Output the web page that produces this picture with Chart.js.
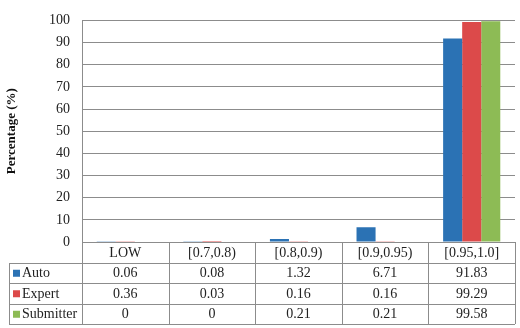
<!DOCTYPE html>
<html>
<head>
<meta charset="utf-8">
<script src="https://cdn.jsdelivr.net/npm/chart.js@4.4.0/dist/chart.umd.min.js"></script>
<style>
  html, body { margin: 0; padding: 0; background: #fff; }
  #wrap { width: 520px; height: 328px; }
</style>
</head>
<body>
<div id="wrap"><canvas id="myChart" width="520" height="328"></canvas></div>
<script>
const categories = ["LOW", "[0.7,0.8)", "[0.8,0.9)", "[0.9,0.95)", "[0.95,1.0]"];
const autoValues = [0.06, 0.08, 1.32, 6.71, 91.83];
const expertValues = [0.36, 0.03, 0.16, 0.16, 99.29];
const submitterValues = [0, 0, 0.21, 0.21, 99.58];
const seriesNames = ["Auto", "Expert", "Submitter"];
const seriesColors = ["#2b72b4", "#dc4a4a", "#8dbb55"];

const serif = "'Liberation Serif', 'Times New Roman', serif";
const lineColor = "#8c8c8c";

// draws the data table under the plot, columns taken from the x scale
const dataTable = {
  id: "dataTable",
  afterDraw(chart) {
    const c = chart.ctx;
    const x = chart.scales.x;
    const area = chart.chartArea;
    const step = x.getPixelForValue(1) - x.getPixelForValue(0);
    const colLeft = area.left;
    const colRight = area.left + step * categories.length;
    const tableLeft = 9;
    const rowH = 20.5;
    const top = area.bottom;
    const rows = [autoValues, expertValues, submitterValues];

    c.save();
    c.strokeStyle = lineColor;
    c.lineWidth = 1;
    c.font = "14px " + serif;
    c.fillStyle = "#222";
    c.textBaseline = "middle";
    c.textAlign = "center";

    // header row
    c.beginPath();
    c.moveTo(colLeft, top + 0.5);
    c.lineTo(colRight, top + 0.5);
    for (let i = 0; i <= categories.length; i++) {
      const xx = Math.round(colLeft + step * i) + 0.5;
      c.moveTo(xx, top);
      c.lineTo(xx, top + rowH * 4);
    }
    c.stroke();
    categories.forEach((cat, i) => {
      c.fillText(cat, x.getPixelForValue(i), top + rowH / 2 + 1);
    });

    // series rows
    c.beginPath();
    for (let r = 1; r <= 4; r++) {
      const yy = Math.round(top + rowH * r) + 0.5;
      c.moveTo(tableLeft, yy);
      c.lineTo(colRight, yy);
    }
    c.moveTo(tableLeft + 0.5, Math.round(top + rowH) );
    c.lineTo(tableLeft + 0.5, Math.round(top + rowH * 4) + 1);
    c.stroke();

    rows.forEach((vals, r) => {
      const cy = top + rowH * (r + 1) + rowH / 2 + 1;
      c.fillStyle = seriesColors[r];
      c.fillRect(tableLeft + 4, cy - 4, 7, 7);
      c.fillStyle = "#222";
      c.textAlign = "left";
      c.fillText(seriesNames[r], tableLeft + 13, cy);
      c.textAlign = "center";
      vals.forEach((v, i) => {
        c.fillText(String(v), x.getPixelForValue(i), cy);
      });
    });
    c.restore();
  },
};

const ctx = document.getElementById("myChart").getContext("2d");

const myChart = new Chart(ctx, {
  type: "bar",
  data: {
    labels: categories,
    datasets: [
      { label: seriesNames[0], data: autoValues, backgroundColor: seriesColors[0] },
      { label: seriesNames[1], data: expertValues, backgroundColor: seriesColors[1] },
      { label: seriesNames[2], data: submitterValues, backgroundColor: seriesColors[2] },
    ],
  },
  options: {
    responsive: false,
    animation: false,
    layout: { padding: { left: 0, right: 5, top: 18, bottom: 86 } },
    datasets: {
      bar: { categoryPercentage: 0.66, barPercentage: 1.0 },
    },
    plugins: {
      legend: { display: false },
      tooltip: { enabled: false },
    },
    scales: {
      x: {
        display: false,
      },
      y: {
        min: 0,
        max: 100,
        ticks: {
          stepSize: 10,
          color: "#222",
          padding: 12,
          font: { family: serif, size: 14 },
        },
        grid: { color: lineColor, drawTicks: false },
        border: { color: lineColor },
        title: {
          display: true,
          text: "Percentage (%)",
          color: "#111",
          padding: { top: 4, bottom: 0 },
          font: { family: serif, size: 13, weight: "bold" },
        },
        afterFit(scale) {
          scale.width = 82;
        },
      },
    },
  },
  plugins: [dataTable],
});
</script>
</body>
</html>
